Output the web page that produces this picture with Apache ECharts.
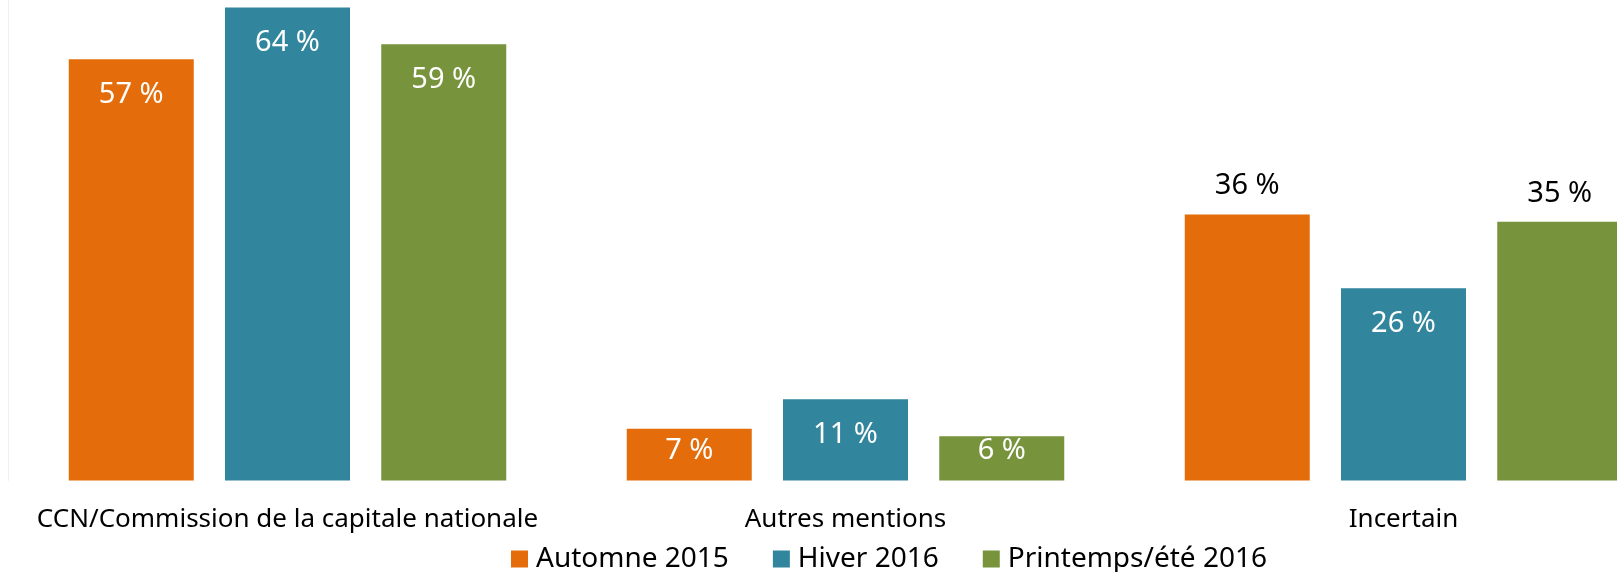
<!DOCTYPE html>
<html>
<head>
<meta charset="utf-8">
<script src="https://cdn.jsdelivr.net/npm/echarts@6/dist/echarts.min.js"></script>
<style>
    html, body { margin: 0; padding: 0; background: #fff; }
    #chart { width: 1617px; height: 572px; }
</style>
</head>
<body>
<div id="chart"></div>
<script>
    // données
    var categories = ['CCN/Commission de la capitale nationale', 'Autres mentions', 'Incertain'];
    var seriesNames = ['Automne 2015', 'Hiver 2016', 'Printemps/été 2016'];
    var automne2015 = [57, 7, 36];
    var hiver2016 = [64, 11, 26];
    var printemps2016 = [59, 6, 35];
    // étiquettes placées au-dessus de la barre (cat. Incertain)
    var outsideLabels = [[false, false, true], [false, false, false], [false, false, true]];

    var colors = ['#E46C0A', '#31859C', '#77933C'];
    var font = '"Noto Sans", "Open Sans", sans-serif';

    function buildData(values, sIdx) {
        return values.map(function (v, i) {
            if (outsideLabels[sIdx][i]) {
                return { value: v, label: { position: 'top', distance: 14, color: '#000' } };
            }
            if (v < 10) {
                return { value: v, label: { position: 'insideBottom', distance: 15 } };
            }
            return v;
        });
    }

    var el = document.getElementById('chart');
    var myChart = echarts.init(el);
    var all = [automne2015, hiver2016, printemps2016];
    var option = {
        animation: false,
        textStyle: { fontFamily: font },
        grid: { left: 8.5, top: 0, width: 1674, bottom: 91.5, containLabel: false, outerBoundsMode: 'none' },
        legend: {
            left: 506,
            top: 540,
            itemWidth: 17,
            itemHeight: 17,
            itemGap: 44,
            icon: 'rect',
            textStyle: { fontSize: 28, color: '#000', fontFamily: font, padding: [0, 0, 0, 3] },
            data: seriesNames
        },
        xAxis: {
            type: 'category',
            data: categories,
            axisLine: { show: false },
            axisTick: { show: false },
            axisLabel: { interval: 0, fontSize: 26, color: '#000', margin: 26, fontFamily: font }
        },
        yAxis: {
            type: 'value',
            min: 0,
            max: 65,
            axisLine: { show: true, lineStyle: { color: '#f0f0f0' } },
            axisTick: { show: false },
            axisLabel: { show: false },
            splitLine: { show: false }
        },
        series: all.map(function (vals, s) {
            return {
                name: seriesNames[s],
                type: 'bar',
                barWidth: 125,
                barGap: '25%',
                itemStyle: { color: colors[s] },
                label: {
                    show: true,
                    position: 'insideTop',
                    distance: 21,
                    fontSize: 29,
                    color: '#fff',
                    fontFamily: font,
                    formatter: '{c} %'
                },
                data: buildData(vals, s)
            };
        })
    };
    myChart.setOption(option);
</script>
</body>
</html>
